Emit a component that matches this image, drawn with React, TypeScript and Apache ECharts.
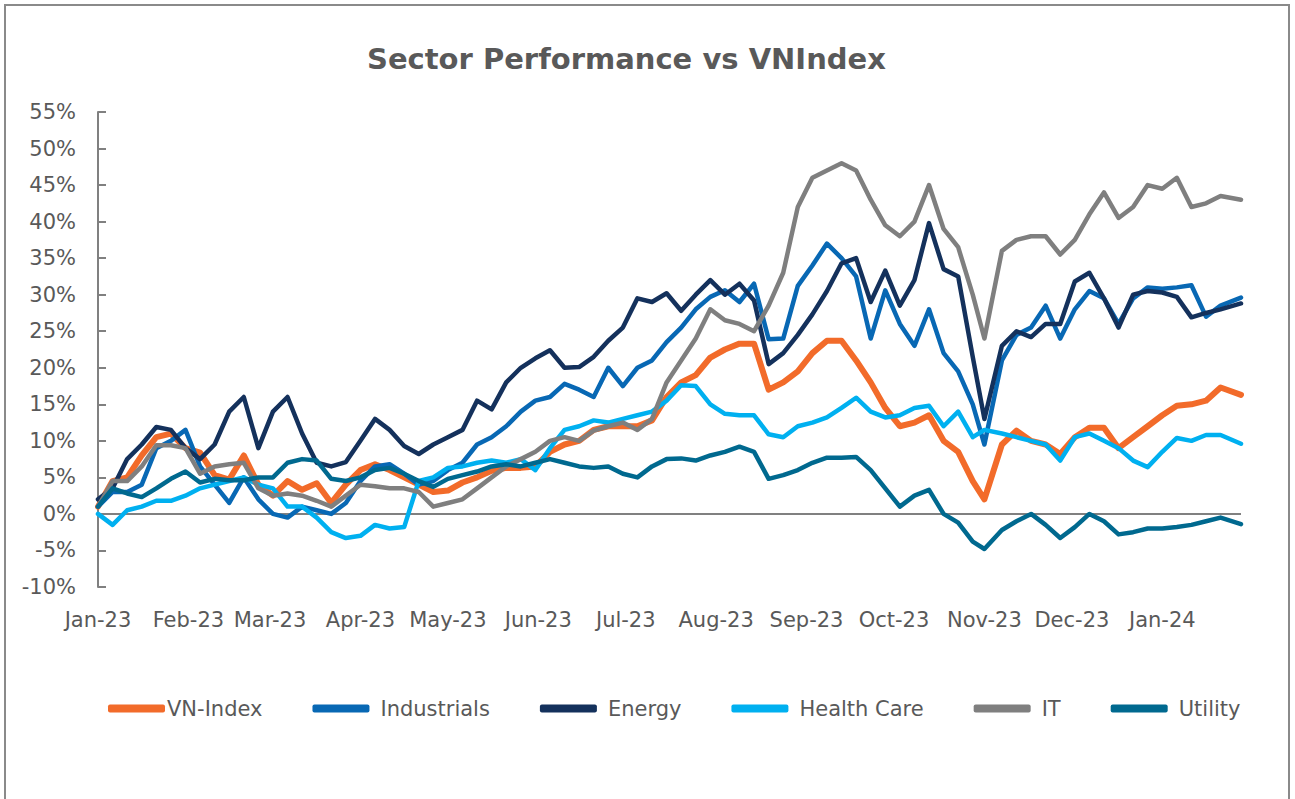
import React, { useEffect, useRef } from 'react';
import * as echarts from 'echarts';

const dates = [
  '2023-01-01','2023-01-06','2023-01-11','2023-01-16','2023-01-21','2023-01-26','2023-01-31',
  '2023-02-05','2023-02-10','2023-02-15','2023-02-20','2023-02-25',
  '2023-03-02','2023-03-07','2023-03-12','2023-03-17','2023-03-22','2023-03-27',
  '2023-04-01','2023-04-06','2023-04-11','2023-04-16','2023-04-21','2023-04-26',
  '2023-05-01','2023-05-06','2023-05-11','2023-05-16','2023-05-21','2023-05-26','2023-05-31',
  '2023-06-05','2023-06-10','2023-06-15','2023-06-20','2023-06-25','2023-06-30',
  '2023-07-05','2023-07-10','2023-07-15','2023-07-20','2023-07-25','2023-07-30',
  '2023-08-04','2023-08-09','2023-08-14','2023-08-19','2023-08-24','2023-08-29',
  '2023-09-03','2023-09-08','2023-09-13','2023-09-18','2023-09-23','2023-09-28',
  '2023-10-03','2023-10-08','2023-10-13','2023-10-18','2023-10-23','2023-10-28',
  '2023-11-01','2023-11-07','2023-11-12','2023-11-17','2023-11-22','2023-11-27',
  '2023-12-02','2023-12-07','2023-12-12','2023-12-17','2023-12-22','2023-12-27',
  '2024-01-01','2024-01-06','2024-01-11','2024-01-16','2024-01-21','2024-01-28'
];

const vnIndex = [
  1, 4.5, 5, 8, 10.5, 11, 9, 8.4, 5.3, 4.7,
  8, 4, 2.5, 4.5, 3.3, 4.2, 1.5, 4, 6, 6.8,
  6, 5, 4, 3, 3.2, 4.3, 5, 5.9, 6.3, 6.3,
  6.5, 8.5, 9.5, 10, 11.5, 12, 12, 12, 12.8, 16,
  18, 19, 21.4, 22.5, 23.3, 23.3, 17, 18, 19.5, 22,
  23.7, 23.7, 21, 18, 14.5, 12, 12.5, 13.5, 10, 8.5,
  4.5, 2, 9.5, 11.4, 10, 9.5, 8.2, 10.5, 11.8, 11.8,
  9, 10.5, 12, 13.5, 14.8, 15, 15.5, 17.3, 16.3
];
const industrials = [
  1, 3, 3, 4, 9, 10, 11.5, 6.5, 4, 1.5,
  5, 2, 0, -0.5, 1, 0.5, 0, 1.5, 4.5, 6.5,
  6.8, 5.5, 4, 4.5, 6, 7, 9.5, 10.5, 12, 14,
  15.5, 16, 17.8, 17, 16, 20, 17.5, 20, 21, 23.5,
  25.5, 28, 29.7, 30.6, 29, 31.5, 23.9, 24, 31.2, 34,
  37, 35, 32.5, 24, 30.6, 26, 23, 28, 22, 19.5,
  15, 9.5, 21, 24.5, 25.5, 28.5, 24, 28, 30.5, 29.5,
  26, 29.5, 31, 30.8, 31, 31.3, 27, 28.5, 29.6
];
const energy = [
  2, 3.5, 7.5, 9.5, 11.9, 11.5, 9, 7.5, 9.5, 14,
  16, 9, 14, 16, 11, 7, 6.5, 7.1, 10, 13,
  11.5, 9.3, 8.2, 9.5, 10.5, 11.5, 15.5, 14.3, 18, 20,
  21.3, 22.4, 20, 20.1, 21.5, 23.7, 25.5, 29.5, 29, 30.2,
  27.8, 30, 32, 30, 31.5, 29.2, 20.5, 22, 24.5, 27.3,
  30.5, 34.3, 35, 29, 33.3, 28.5, 32, 39.8, 33.5, 32.5,
  21.5, 13, 23, 25, 24.2, 26, 26, 31.8, 33, 29.5,
  25.5, 30, 30.5, 30.3, 29.7, 26.9, 27.5, 28, 28.8
];
const healthCare = [
  0, -1.5, 0.5, 1, 1.8, 1.8, 2.5, 3.5, 4, 4.5,
  5, 4, 3.5, 1, 1, -0.5, -2.5, -3.3, -3, -1.5,
  -2, -1.8, 4.5, 5, 6.3, 6.5, 7, 7.3, 7, 7.5,
  6, 9, 11.5, 12, 12.8, 12.5, 13, 13.5, 14, 15.5,
  17.6, 17.5, 15, 13.7, 13.5, 13.5, 10.9, 10.5, 12, 12.5,
  13.2, 14.5, 15.9, 14, 13.2, 13.5, 14.5, 14.8, 12, 14,
  10.5, 11.5, 11, 10.5, 10, 9.5, 7.3, 10.5, 11, 10,
  9, 7.3, 6.4, 8.5, 10.4, 10, 10.8, 10.8, 9.6
];
const it = [
  1, 4.5, 4.5, 6.5, 9.4, 9.4, 9, 5.5, 6.5, 6.8,
  7, 3.5, 2.5, 2.8, 2.5, 1.8, 1, 2.5, 4, 3.8,
  3.5, 3.5, 3, 1, 1.5, 2, 3.5, 5, 6.5, 7.5,
  8.5, 10, 10.5, 10, 11.4, 12, 12.5, 11.5, 13, 18,
  21, 24, 28, 26.5, 26, 25, 28.5, 33, 42, 46,
  47, 48, 47, 43, 39.5, 38, 40, 45, 39, 36.5,
  30, 24, 36, 37.5, 38, 38, 35.5, 37.5, 41, 44,
  40.5, 42, 45, 44.5, 46, 42, 42.5, 43.5, 43
];
const utility = [
  1, 3.5, 2.8, 2.3, 3.5, 4.8, 5.8, 4.3, 4.8, 4.6,
  4.6, 5, 5, 7, 7.5, 7.3, 4.8, 4.5, 5, 6,
  6.3, 5.5, 4.5, 3.7, 4.8, 5.3, 5.8, 6.5, 6.8, 6.5,
  7, 7.5, 7, 6.5, 6.3, 6.5, 5.5, 5, 6.5, 7.5,
  7.6, 7.3, 8, 8.5, 9.2, 8.5, 4.8, 5.3, 6, 7,
  7.7, 7.7, 7.8, 6, 3.5, 1, 2.5, 3.3, 0, -1.2,
  -3.8, -4.8, -2.2, -1, 0, -1.5, -3.3, -1.8, 0, -1,
  -2.8, -2.5, -2, -2, -1.8, -1.5, -1, -0.5, -1.4
];

const seriesNames = ['VN-Index', 'Industrials', 'Energy', 'Health Care', 'IT', 'Utility'];
const seriesValues = [vnIndex, industrials, energy, healthCare, it, utility];
const seriesColors = ['#F26B2A', '#0868B4', '#14315C', '#00B0F0', '#7F7F7F', '#00698F'];
const seriesWidths = [6, 4.5, 4.5, 4.5, 4.5, 4.5];

const monthNames = ['Jan', 'Feb', 'Mar', 'Apr', 'May', 'Jun', 'Jul', 'Aug', 'Sep', 'Oct', 'Nov', 'Dec'];
const yMin = -10;
const yMax = 55;
const yStep = 5;
const xStart = '2023-01-01';
const xEnd = '2024-01-28';

const FONT = 'DejaVu Sans';
const TEXT = '#595959';

export default function App() {
  const ref = useRef<HTMLDivElement>(null);

  useEffect(() => {
    if (!ref.current) return;
    const chart = echarts.init(ref.current, null, { renderer: 'svg' });

    const series: any[] = seriesNames.map((name, k) => ({
      name,
      type: 'line',
      data: dates.map((d, i) => [d, seriesValues[k][i]]),
      showSymbol: false,
      symbol: 'none',
      lineStyle: { color: seriesColors[k], width: seriesWidths[k], cap: 'round', join: 'round' },
      itemStyle: { color: seriesColors[k] },
      z: 3 + k,
      ...(k === 0
        ? {
            markLine: {
              silent: true,
              symbol: 'none',
              label: { show: false },
              lineStyle: { color: '#808080', width: 2, type: 'solid' },
              data: [{ yAxis: 0 }],
              z: 1,
            },
          }
        : {}),
    }));

    const legendData = seriesNames.map((name, k) =>
      k === 0 ? { name, textStyle: { padding: [0, 0, 0, -3] } } : { name }
    );

    chart.setOption({
      animation: false,
      backgroundColor: '#ffffff',
      title: {
        text: 'Sector Performance vs VNIndex',
        left: 362,
        top: 39,
        textStyle: { fontFamily: FONT, fontSize: 29, fontWeight: 'bold', color: TEXT },
      },
      legend: {
        data: legendData,
        left: 103,
        top: 693,
        icon: 'roundRect',
        itemWidth: 57,
        itemHeight: 8,
        itemGap: 50,
        textStyle: { fontFamily: FONT, fontSize: 21, color: TEXT, padding: [0, 0, 0, 6] },
      },
      grid: { left: 98, right: 54, top: 112, bottom: 212, containLabel: false },
      xAxis: {
        type: 'time',
        min: xStart,
        max: xEnd,
        splitNumber: 13,
        minInterval: 28 * 86400000,
        maxInterval: 31 * 86400000,
        axisLine: { show: false },
        axisTick: { show: false },
        splitLine: { show: false },
        axisLabel: {
          fontFamily: FONT,
          fontSize: 21,
          color: TEXT,
          margin: 22,
          hideOverlap: false,
          formatter: (value: number) => {
            const d = new Date(value);
            if (d.getDate() !== 1) return '';
            return monthNames[d.getMonth()] + '-' + String(d.getFullYear()).slice(2);
          },
        },
      },
      yAxis: {
        type: 'value',
        min: yMin,
        max: yMax,
        interval: yStep,
        axisLine: { show: true, lineStyle: { color: '#808080', width: 2 } },
        axisTick: { show: true, inside: true, length: 8, lineStyle: { color: '#808080', width: 2 } },
        splitLine: { show: false },
        axisLabel: {
          fontFamily: FONT,
          fontSize: 21,
          color: TEXT,
          margin: 22,
          formatter: (v: number) => `${v}%`,
        },
      },
      graphic: [
        {
          type: 'rect',
          shape: { x: 5, y: 5, width: 1284, height: 830 },
          style: { fill: 'none', stroke: '#8a8a8a', lineWidth: 2 },
          silent: true,
          z: 0,
        },
      ],
      series,
    });

    return () => chart.dispose();
  }, []);

  return (
    <div
      ref={ref}
      style={{ position: 'absolute', left: 0, top: 0, width: 1295, height: 799, background: '#fff' }}
    />
  );
}
